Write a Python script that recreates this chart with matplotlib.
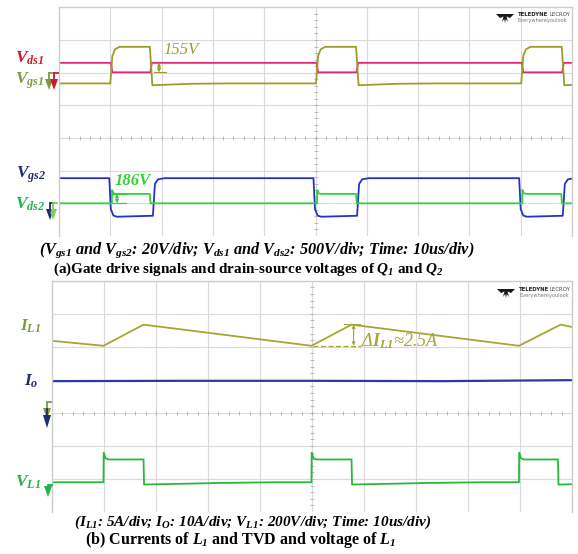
import numpy as np
import matplotlib
matplotlib.use("Agg")
import matplotlib.pyplot as plt
from matplotlib.patches import Polygon

plt.rcParams['font.family'] = ['Liberation Serif', 'DejaVu Serif']
plt.rcParams['mathtext.fontset'] = 'custom'
plt.rcParams['mathtext.rm'] = 'Liberation Serif:bold:italic'
plt.rcParams['mathtext.it'] = 'Liberation Serif:bold:italic'
plt.rcParams['mathtext.bf'] = 'Liberation Serif:bold'

W, H = 578, 554

# ---- (a) gate drive / drain-source, time in us, levels in divisions ----
vgs1_on = [10.0, 50.1, 90.1]
vgs1_off = [17.7, 57.9, 98.0]
vgs1_lo, vgs1_hi = 1.67, 2.79
vds1_hi, vds1_lo = 2.30, 2.01

vgs2_fall = [9.8, 49.6, 89.7]
vgs2_rise = [18.3, 58.1, 98.2]
vgs2_hi, vgs2_lo = -1.23, -2.41

vds2_up = [10.3, 50.3, 90.3]
vds2_dn = [17.7, 57.9, 97.9]
vds2_lo, vds2_hi = -2.00, -1.71

# ---- (b) inductor current, output current, inductor voltage ----
il1_t = [0.0, 9.9, 17.6, 49.9, 57.6, 89.8, 97.8, 100.0]
il1_v = [2.18, 2.03, 2.67, 2.03, 2.67, 2.03, 2.67, 2.60]
io_t = [0.0, 25.0, 50.0, 75.0, 100.0]
io_v = [0.96, 0.97, 0.97, 0.96, 0.99]
vl1_on = [9.9, 49.9, 89.8]
vl1_off = [17.6, 57.6, 97.3]
vl1_lo, vl1_hi = -2.10, -1.41

C_VDS1 = '#dc2a78'
C_VGS1 = '#9c9c2a'
C_VGS2 = '#2233cc'
C_VDS2 = '#33d03a'
C_IL1 = '#a6a636'
C_IO = '#3038a8'
C_VL1 = '#28b83c'
GRID = '#dadada'


def pulse_train(starts, stops, base, level, lead, trail, t_end=105.0):
    # edge shapes are (dt, fraction of the step) pairs
    x, y = [0.0], [base]
    for a, b in zip(starts, stops):
        for dt, f in lead:
            x.append(a + dt)
            y.append(base + f * (level - base))
        for dt, f in trail:
            x.append(b + dt)
            y.append(base + f * (level - base))
    x.append(max(t_end, x[-1]))
    y.append(base)
    return x, y


def scope_grid(ax):
    ax.set_xlim(0, 100)
    ax.set_ylim(-3, 4)
    ax.set_xticks([])
    ax.set_yticks([])
    for t in range(10, 100, 10):
        ax.axvline(t, color=GRID, lw=0.8, zorder=0)
    for v in range(-2, 4):
        ax.axhline(v, color=GRID, lw=0.8, zorder=0)
    tt = np.arange(2, 100, 2)
    ax.plot(tt, np.zeros_like(tt), '|', color='#b0b0b0', ms=3.5, mew=0.6, zorder=0)
    vv = np.arange(-2.8, 4, 0.2)
    ax.plot(np.full_like(vv, 50.0), vv, '_', color='#b0b0b0', ms=3.5, mew=0.6, zorder=0)
    for row in (2.5, -2.5):
        ax.plot(tt, np.full_like(tt, row), 'o', color='#cfcfcf', ms=0.9, mew=0, zorder=0)
    for s in ('left', 'right', 'top'):
        ax.spines[s].set_color('#cccccc')
        ax.spines[s].set_linewidth(1.0)
    ax.spines['bottom'].set_visible(False)


def ground(ov, x, y, color, up=8, flag=5):
    ov.plot([x, x + flag], [y, y], color=color, lw=1.3, solid_capstyle='butt')
    ov.plot([x, x], [y, y + up], color=color, lw=1.3)
    ov.add_patch(Polygon([[x - 4, y + up - 2], [x + 4, y + up - 2], [x, y + up + 9]],
                         closed=True, color=color, lw=0))


def logo(ov, x, y):
    ov.add_patch(Polygon([[x - 9, y - 3], [x + 9, y - 3], [x + 5, y + 1], [x + 1.5, y - 0.5],
                          [x + 3, y + 5], [x + 0.8, y + 2], [x, y + 6], [x - 0.8, y + 2],
                          [x - 3, y + 5], [x - 1.5, y - 0.5], [x - 5, y + 1]],
                         closed=True, color='#1a1a1a', lw=0))
    ov.text(x + 13, y - 2.5, 'TELEDYNE', fontsize=3.9, weight='bold', family='DejaVu Sans',
            va='center', ha='left', color='#222222')
    ov.text(x + 44, y - 2.5, 'LECROY', fontsize=3.9, family='DejaVu Sans',
            va='center', ha='left', color='#444444')
    ov.text(x + 13, y + 3.5, 'Everywhereyoulook', fontsize=3.6, family='DejaVu Sans',
            va='center', ha='left', color='#777777')


fig = plt.figure(figsize=(W / 100, H / 100), dpi=100)

# panel (a): 59..572 px wide, 7.3..236 px high
ax1 = fig.add_axes([59 / W, 1 - 236 / H, 513 / W, 228.7 / H])
scope_grid(ax1)
x, y = pulse_train(vgs1_on, vgs1_off, vds1_hi, vds1_lo,
                   [(0.1, 0), (0.4, 1)], [(0.1, 1), (0.4, 0)])
ax1.plot(x, y, color=C_VDS1, lw=1.3)
x, y = pulse_train(vgs1_on, vgs1_off, vgs1_lo, vgs1_hi,
                   [(0, 0), (0.4, 0.75), (0.9, 0.93), (1.8, 1.0)],
                   [(0, 1), (0.5, -0.05), (8, -0.01), (15, 0)])
ax1.plot(x, y, color=C_VGS1, lw=1.3)
x, y = pulse_train(vgs2_fall, vgs2_rise, vgs2_hi, vgs2_lo,
                   [(0, 0), (0.3, 0.8), (0.8, 0.97), (1.5, 1.0)],
                   [(0, 0.975), (0.4, 0.15), (1.0, 0.03), (2.3, 0)])
ax1.plot(x, y, color=C_VGS2, lw=1.3)
x, y = pulse_train(vds2_up, vds2_dn, vds2_lo, vds2_hi,
                   [(0, 0), (0.05, 1.4), (0.3, 1.05), (0.8, 1.0)],
                   [(0, 1), (0.15, 0)])
ax1.plot(x, y, color=C_VDS2, lw=1.3)

# 155V / 186V markers
ax1.plot([18.1, 20.9], [vds1_hi, vds1_hi], color=C_VGS1, lw=0.8)
ax1.plot([18.5, 20.9], [vds1_lo, vds1_lo], color=C_VGS1, lw=0.8)
ax1.annotate('', xy=(19.5, vds1_hi), xytext=(19.5, vds1_lo),
             arrowprops=dict(arrowstyle='<|-|>', color=C_VGS1, lw=0.8,
                             mutation_scale=5, shrinkA=0, shrinkB=0))
ax1.text(20.3, 2.69, '155V', color=C_VGS1, fontsize=12, style='italic', va='center')
ax1.plot([10.3, 13.1], [vds2_hi, vds2_hi], color=C_VDS2, lw=0.8)
ax1.plot([10.3, 13.1], [vds2_lo, vds2_lo], color=C_VDS2, lw=0.8)
ax1.annotate('', xy=(11.3, vds2_hi), xytext=(11.3, vds2_lo),
             arrowprops=dict(arrowstyle='<|-|>', color=C_VDS2, lw=0.8,
                             mutation_scale=5, shrinkA=0, shrinkB=0))
ax1.text(10.9, -1.31, '186V', color=C_VDS2, fontsize=12, style='italic',
         weight='bold', va='center')

# panel (b): 52..572 px wide, 280.7..512 px high
ax2 = fig.add_axes([52 / W, 1 - 512 / H, 520 / W, 231.3 / H])
scope_grid(ax2)
ax2.plot(il1_t, il1_v, color=C_IL1, lw=1.3)
ax2.plot(io_t, io_v, color=C_IO, lw=1.6)
x, y = pulse_train(vl1_on, vl1_off, vl1_lo, vl1_hi,
                   [(0, 0), (0.05, 1.3), (0.4, 1.05), (1.0, 1.0)],
                   [(0, 1), (0.1, -0.1), (15, -0.03), (25, 0)])
ax2.plot(x, y, color=C_VL1, lw=1.3)

ax2.plot([50.2, 59.4], [2.03, 2.03], color=C_IL1, lw=0.9, ls=(0, (4, 2)))
ax2.plot([56.2, 59.2], [2.69, 2.69], color=C_IL1, lw=0.8)
ax2.annotate('', xy=(58.0, 2.67), xytext=(58.0, 2.03),
             arrowprops=dict(arrowstyle='<|-|>', color=C_IL1, lw=0.8,
                             mutation_scale=5, shrinkA=0, shrinkB=0))
ax2.text(59.4, 2.18, r'Δ$I_{L1}$≈2.5A', color=C_IL1, fontsize=13, style='italic', va='center')

# overlay in pixel coordinates for labels, ground markers and captions
ov = fig.add_axes([0, 0, 1, 1])
ov.set_xlim(0, W)
ov.set_ylim(H, 0)
ov.axis('off')
ov.patch.set_alpha(0)

lab = dict(fontsize=12.5, ha='left', va='center')
ov.text(15, 58, r'$V_{ds1}$', color='#d2182e', **lab)
ov.text(15, 81, r'$V_{gs1}$', color='#7f9a3c', **lab)
ov.text(16, 175, r'$V_{gs2}$', color='#1f2d6e', **lab)
ov.text(15, 204, r'$V_{ds2}$', color='#22b24a', **lab)
ov.text(20, 326, r'$I_{L1}$', color='#7f9a3c', **lab)
ov.text(24, 381, r'$I_{o}$', color='#1f2d6e', **lab)
ov.text(15, 482, r'$V_{L1}$', color='#22b24a', **lab)

ground(ov, 49, 73, '#7f9a3c')
ground(ov, 54, 73, '#d2182e')
ground(ov, 50, 203, '#1f2d6e')
ground(ov, 53, 203, '#7cd05a')
ground(ov, 47, 402, '#7f9a3c')
ov.plot([47, 47], [409, 417], color='#1f2d6e', lw=1.3)
ov.add_patch(Polygon([[43, 415], [51, 415], [47, 428]], closed=True, color='#1f2d6e', lw=0))
ground(ov, 48, 485, '#22b24a', up=3)

logo(ov, 505, 17)
logo(ov, 506, 292)

ov.text(257, 250, r'($V_{gs1}$ and $V_{gs2}$: 20V/div; $V_{ds1}$ and $V_{ds2}$: 500V/div; Time: 10us/div)',
        fontsize=11.7, weight='bold', style='italic', ha='center', va='center')
ov.text(248, 269, r'(a)Gate drive signals and drain-source voltages of $Q_1$ and $Q_2$',
        fontsize=10.9, weight='bold', ha='center', va='center')
ov.text(253, 522, r'($I_{L1}$: 5A/div; $I_O$: 10A/div; $V_{L1}$: 200V/div; Time: 10us/div)',
        fontsize=11, weight='bold', style='italic', ha='center', va='center')
ov.text(240, 540, r'(b) Currents of $L_1$ and TVD and voltage of $L_1$',
        fontsize=11.5, weight='bold', ha='center', va='center')

fig.savefig('out.png', dpi=100)
